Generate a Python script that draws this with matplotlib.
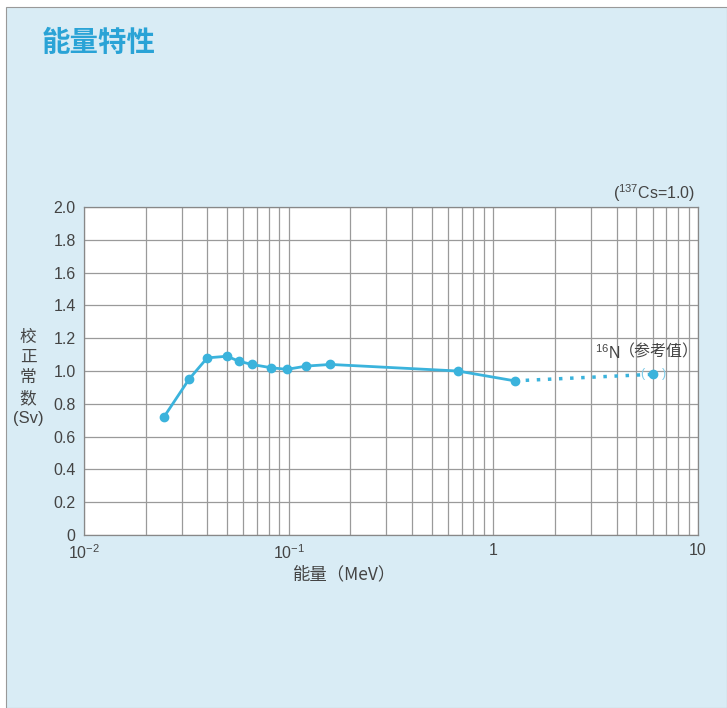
import matplotlib
matplotlib.use("Agg")
import matplotlib.pyplot as plt
from matplotlib.patches import Rectangle
from matplotlib.ticker import FixedLocator, LogLocator, NullFormatter, FixedFormatter

plt.rcParams['font.family'] = ['Liberation Sans', 'Noto Sans CJK SC', 'DejaVu Sans']
plt.rcParams['mathtext.fontset'] = 'custom'
plt.rcParams['mathtext.rm'] = 'Liberation Sans'
plt.rcParams['mathtext.it'] = 'Liberation Sans:italic'
plt.rcParams['mathtext.bf'] = 'Liberation Sans:bold'

# ---- data ----
energy = [0.0246, 0.0326, 0.040, 0.050, 0.057, 0.066, 0.082, 0.098, 0.122, 0.160, 0.67, 1.27]
factor = [0.72, 0.95, 1.08, 1.09, 1.06, 1.04, 1.02, 1.01, 1.03, 1.04, 1.00, 0.94]
n16_energy = [1.27, 6.05]
n16_factor = [0.94, 0.98]
y_ticks = [0, 0.2, 0.4, 0.6, 0.8, 1.0, 1.2, 1.4, 1.6, 1.8, 2.0]
y_tick_labels = ['0', '0.2', '0.4', '0.6', '0.8', '1.0', '1.2', '1.4', '1.6', '1.8', '2.0']
x_ticks = [0.01, 0.1, 1, 10]
x_tick_labels = ['$10^{-2}$', '$10^{-1}$', '1', '10']

bg = '#d9ecf5'
blue = '#3bb3dc'
text_col = '#444444'

fig = plt.figure(figsize=(7.27, 7.08), dpi=100)
fig.patch.set_facecolor('white')
fig.patches.append(Rectangle((6/727, 0), 1 - 6/727, 1 - 7/708, transform=fig.transFigure,
                             facecolor=bg, edgecolor='#999999', linewidth=0.8, zorder=-10))

ax = fig.add_axes([84/727, 1 - 535/708, (698 - 84)/727, (535 - 207)/708])
ax.set_facecolor('white')
ax.set_xscale('log')
ax.set_xlim(0.01, 10)
ax.set_ylim(0, 2.0)

ax.xaxis.set_major_locator(FixedLocator(x_ticks))
ax.xaxis.set_major_formatter(FixedFormatter(x_tick_labels))
ax.xaxis.set_minor_locator(LogLocator(base=10, subs=range(2, 10)))
ax.xaxis.set_minor_formatter(NullFormatter())
ax.set_yticks(y_ticks)
ax.set_yticklabels(y_tick_labels)

ax.grid(True, which='both', axis='x', color='#9a9a9a', linewidth=0.9)
ax.grid(True, which='major', axis='y', color='#9a9a9a', linewidth=0.9)
ax.tick_params(which='both', length=0, labelsize=11.5, colors=text_col, pad=6)
for s in ax.spines.values():
    s.set_color('#888888')
    s.set_linewidth(0.9)
ax.set_axisbelow(True)

ax.plot(energy, factor, color=blue, linewidth=2.0, marker='o', markersize=6,
        markerfacecolor=blue, markeredgecolor=blue, zorder=3)
ax.plot(n16_energy, n16_factor, color=blue, linewidth=2.5, linestyle=(0, (1, 2.2)), zorder=3)
ax.plot([n16_energy[-1]], [n16_factor[-1]], 'o', color=blue, markersize=6, zorder=4)
ax.annotate('(', (n16_energy[-1], n16_factor[-1]), xytext=(-11, 0), textcoords='offset pixels',
            ha='center', va='center', color='#7ccbe8', fontsize=9)
ax.annotate(')', (n16_energy[-1], n16_factor[-1]), xytext=(11, 0), textcoords='offset pixels',
            ha='center', va='center', color='#7ccbe8', fontsize=9)
ax.annotate('$^{16}$N', (n16_energy[-1], n16_factor[-1]), xytext=(-33, 22),
            textcoords='offset pixels', ha='right', va='center', color=text_col, fontsize=11.5)
ax.annotate('（参考值）', (n16_energy[-1], n16_factor[-1]), xytext=(-34, 22),
            textcoords='offset pixels', ha='left', va='center', color=text_col, fontsize=11.5,
            family=['Noto Sans CJK SC'])

fig.text(42/727, 1 - 43/708, '能量特性', color='#2aa3d6', fontsize=20.5, fontweight='bold',
         ha='left', va='center', family=['Noto Sans CJK SC'])
fig.text(695/727, 1 - 193/708, '($^{137}$Cs=1.0)', color=text_col, fontsize=11.5,
         ha='right', va='center')
fig.text(293/727, 1 - 574/708, '能量（MeV）', color=text_col, fontsize=12.5,
         ha='left', va='center', family=['Noto Sans CJK SC'])
fig.text(28/727, 1 - 378/708, '校\n正\n常\n数\n(Sv)', color=text_col, fontsize=12,
         ha='center', va='center', linespacing=1.4)

fig.savefig('out.png', dpi=100, facecolor=fig.get_facecolor())
